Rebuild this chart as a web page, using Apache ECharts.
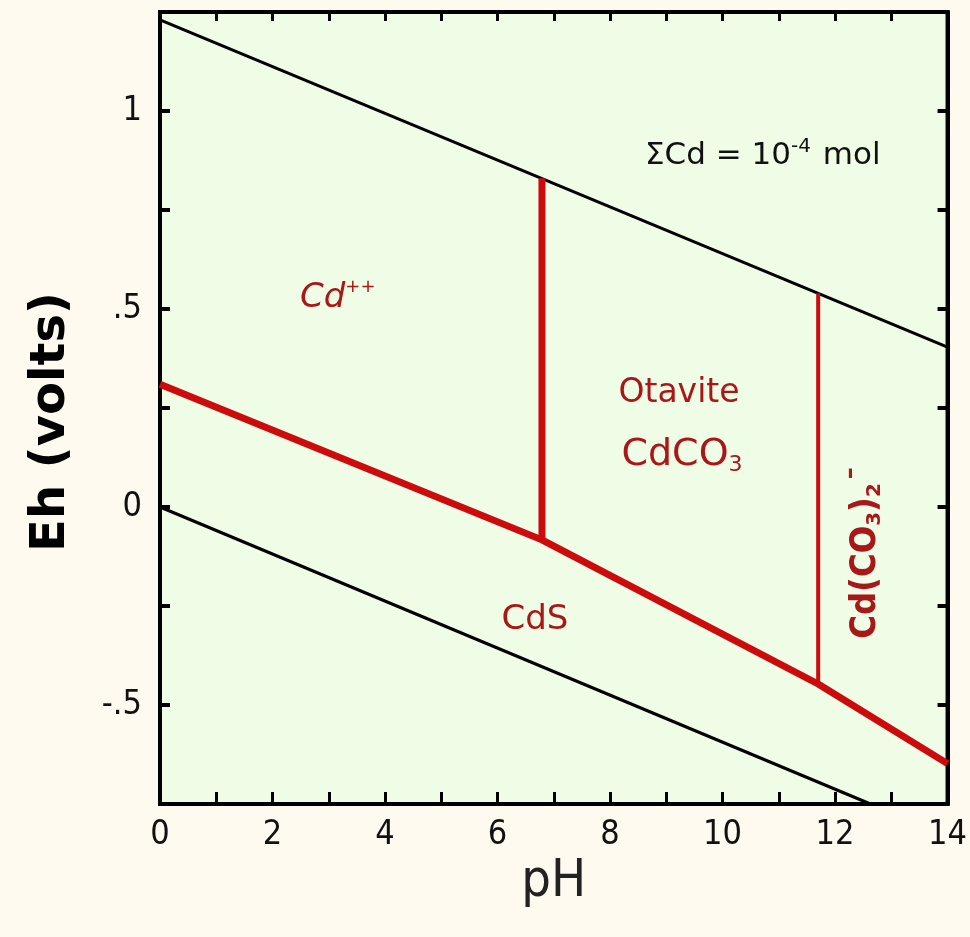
<!DOCTYPE html>
<html><head><meta charset="utf-8">
<script src="https://cdn.jsdelivr.net/npm/echarts@6/dist/echarts.min.js"></script>
<style>html,body{margin:0;padding:0;background:#fffaf0}#c{width:970px;height:937px}</style>
</head><body><div id="c"></div>
<script>
// Eh-pH diagram for Cd, sum Cd = 1e-4 mol
const waterUpper = [[0, 1.23], [14, 0.404]];
const waterLower = [[0, 0.0], [12.63, -0.75]];
const cdsBoundary = [[0, 0.31], [6.79, -0.083], [11.7, -0.447], [14, -0.648]];
const cdOtaviteBoundary = [[6.79, -0.083], [6.79, 0.83]];
const otaviteComplexBoundary = [[11.7, -0.447], [11.7, 0.54]];
const xTicks = [0, 2, 4, 6, 8, 10, 12, 14];
const yTickLabels = {"1": "1", "0.5": ".5", "0": "0", "-0.5": "-.5"};

const chart = echarts.init(document.getElementById('c'));
const tickFont = {fontFamily: 'Liberation Sans Narrow, DejaVu Sans Condensed, DejaVu Sans', fontSize: 34, color: '#111'};
const labelRed = '#a81818';
const lineRed = '#cc0c0c';
const font = 'DejaVu Sans, Noto Sans';

chart.setOption({
  backgroundColor: '#fffaf0',
  animation: false,
  grid: {left: 160, right: 18, top: 12, bottom: 133, show: true, backgroundColor: '#effde6', borderColor: '#000', borderWidth: 4},
  xAxis: [{
    type: 'value', min: 0, max: 14, interval: 1, position: 'bottom',
    name: 'pH', nameLocation: 'middle', nameGap: 52,
    nameTextStyle: {fontFamily: 'Liberation Sans Narrow, DejaVu Sans Condensed, DejaVu Sans', fontSize: 52, color: '#222'},
    axisLine: {show: true, onZero: false, lineStyle: {color: '#000', width: 4}},
    axisTick: {inside: true, length: 12, lineStyle: {color: '#000', width: 3}},
    axisLabel: Object.assign({margin: 14, formatter: v => xTicks.includes(v) ? String(v) : ''}, tickFont),
    splitLine: {show: false}
  }, {
    type: 'value', min: 0, max: 14, interval: 1, position: 'top',
    axisLine: {show: true, onZero: false, lineStyle: {color: '#000', width: 4}},
    axisTick: {inside: true, length: 9, lineStyle: {color: '#000', width: 3}},
    axisLabel: {show: false}, splitLine: {show: false}
  }],
  yAxis: [{
    type: 'value', min: -0.75, max: 1.25, interval: 0.25, position: 'left',
    name: 'Eh (volts)', nameLocation: 'middle', nameGap: 84,
    nameTextStyle: {fontFamily: font, fontSize: 48, fontWeight: 'bold', color: '#000', padding: [0, 28, 0, 0]},
    axisLine: {show: true, onZero: false, lineStyle: {color: '#000', width: 4}},
    axisTick: {inside: true, length: 10, lineStyle: {color: '#000', width: 4}},
    axisLabel: Object.assign({margin: 18, formatter: v => {const k = String(Math.round(v*100)/100); return yTickLabels[k] !== undefined ? yTickLabels[k] : '';}}, tickFont),
    splitLine: {show: false}
  }, {
    type: 'value', min: -0.75, max: 1.25, interval: 0.25, position: 'right',
    axisLine: {show: true, onZero: false, lineStyle: {color: '#000', width: 4}},
    axisTick: {inside: true, length: 10, lineStyle: {color: '#000', width: 4}},
    axisLabel: {show: false}, splitLine: {show: false}
  }],
  series: [
    {type: 'line', data: waterUpper, symbol: 'none', lineStyle: {color: '#000', width: 3}, z: 3},
    {type: 'line', data: waterLower, symbol: 'none', lineStyle: {color: '#000', width: 3}, z: 3},
    {type: 'line', data: cdsBoundary, symbol: 'none', lineStyle: {color: lineRed, width: 7}, z: 4},
    {type: 'line', data: cdOtaviteBoundary, symbol: 'none', lineStyle: {color: lineRed, width: 7}, z: 4},
    {type: 'line', data: otaviteComplexBoundary, symbol: 'none', lineStyle: {color: lineRed, width: 4}, z: 4}
  ],
  graphic: [
    {type: 'text', x: 645, y: 156, z: 10, style: {
      text: '{a|ΣCd = 10}{s|-4}{a| mol}', verticalAlign: 'middle',
      rich: {a: {fontFamily: font, fontSize: 31, fill: '#111'}, s: {fontFamily: font, fontSize: 20, fill: '#111', padding: [0, 2, 18, 0]}}
    }},
    {type: 'text', x: 300, y: 298, z: 10, style: {
      text: '{a|Cd}{s|++}', verticalAlign: 'middle',
      rich: {a: {fontFamily: font, fontSize: 34, fontStyle: 'italic', fill: labelRed}, s: {fontFamily: font, fontSize: 18, fill: labelRed, padding: [0, 0, 22, 0]}}
    }},
    {type: 'text', x: 679, y: 393, z: 10, style: {text: 'Otavite', align: 'center', verticalAlign: 'middle', fontFamily: font, fontSize: 33, fill: labelRed}},
    {type: 'text', x: 682, y: 455, z: 10, style: {
      text: '{a|CdCO}{s|3}', align: 'center', verticalAlign: 'middle',
      rich: {a: {fontFamily: font, fontSize: 38, fill: labelRed}, s: {fontFamily: font, fontSize: 22, fill: labelRed, padding: [20, 0, 0, 0]}}
    }},
    {type: 'text', x: 535, y: 620, z: 10, style: {text: 'CdS', align: 'center', verticalAlign: 'middle', fontFamily: font, fontSize: 34, fill: labelRed}},
    {type: 'text', x: 866, y: 553, rotation: Math.PI / 2, z: 10, style: {
      text: '{a|Cd(CO}{s|3}{a|)}{s|2}{u|–}',
      align: 'center', verticalAlign: 'middle',
      rich: {a: {fontFamily: 'DejaVu Sans Condensed, DejaVu Sans', fontSize: 36, fontWeight: 'bold', fill: labelRed}, s: {fontFamily: font, fontSize: 20, fontWeight: 'bold', fill: labelRed, padding: [18, 0, 0, 0]}, u: {fontFamily: font, fontSize: 24, fontWeight: 'bold', fill: labelRed, padding: [0, 0, 30, 4]}}
    }}
  ]
});
</script></body></html>
